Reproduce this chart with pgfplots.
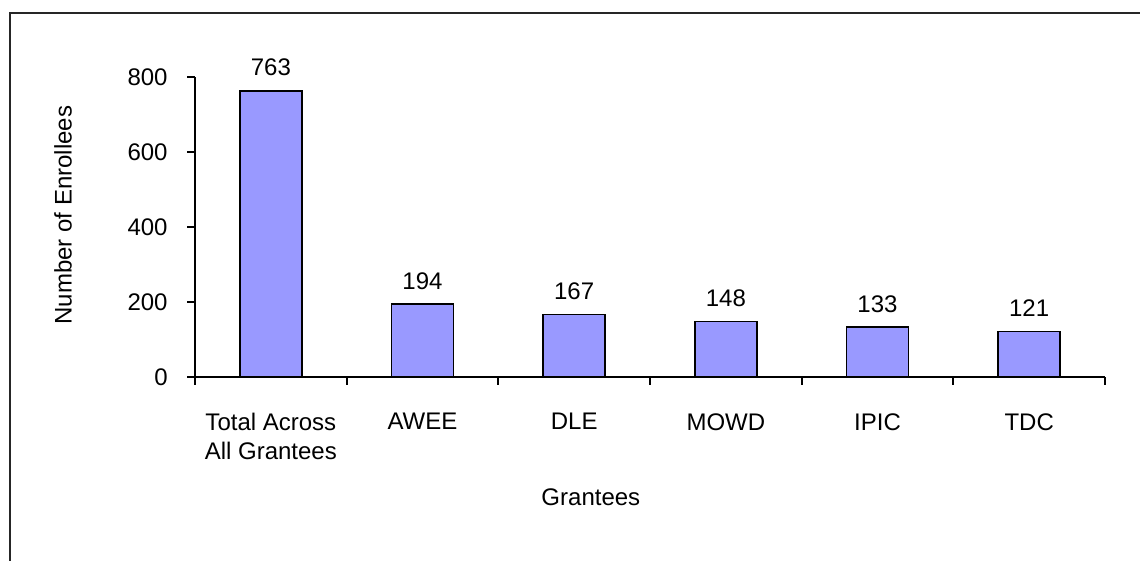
\documentclass[border=0pt]{standalone}
\usepackage{pgfplots}
\pgfplotsset{compat=1.18}
\usepackage{fontspec}
\setmainfont{Liberation Sans}
\definecolor{barblue}{HTML}{9999FF}
\begin{document}
\begin{tikzpicture}
\useasboundingbox (0pt,0pt) rectangle (570pt,280.5pt);
\draw[line width=1pt, black!85] (5pt,-5pt) -- (5pt,274pt) -- (575pt,274pt);
\begin{axis}[
  at={(97.5pt,92pt)}, anchor=south west,
  scale only axis, width=455pt, height=150pt,
  xmin=-0.5, xmax=5.5, ymin=0, ymax=800,
  axis lines*=left,
  axis line style={line width=1pt},
  every tick/.style={black, line width=1pt},
  tick align=outside,
  major tick length=4pt, minor tick length=4pt,
  xtick={0,1,2,3,4,5},
  xticklabels={{Total Across\\All Grantees},AWEE,DLE,MOWD,IPIC,TDC},
  major x tick style={draw=none},
  minor xtick={-0.5,0.5,1.5,2.5,3.5,4.5,5.5},
  ytick={0,200,400,600,800},
  /pgf/number format/assume math mode=true,
  tick label style={font=\fontsize{12}{14.5}\selectfont},
  xticklabel style={align=center, anchor=north, inner sep=0pt, yshift=-14pt},
  yticklabel style={anchor=east, inner sep=0pt, xshift=-9.5pt},
  xlabel={Grantees},
  ylabel={Number of Enrollees},
  label style={font=\fontsize{12}{14.5}\selectfont},
  xlabel style={at={(rel axis cs:0.435,-0.4)}, anchor=center},
  ylabel style={at={(rel axis cs:-0.145,0.54)}, anchor=center, rotate=0},
  ybar, bar width=31pt,
  nodes near coords,
  every node near coord/.append style={font=\fontsize{12}{14.5}\selectfont, anchor=base, inner sep=0pt, yshift=7.5pt, black},
  clip=false,
]
\addplot[fill=barblue, draw=black, line width=0.8pt] coordinates {
  (0,763) (1,194) (2,167) (3,148) (4,133) (5,121)
};
\end{axis}
\end{tikzpicture}
\end{document}
